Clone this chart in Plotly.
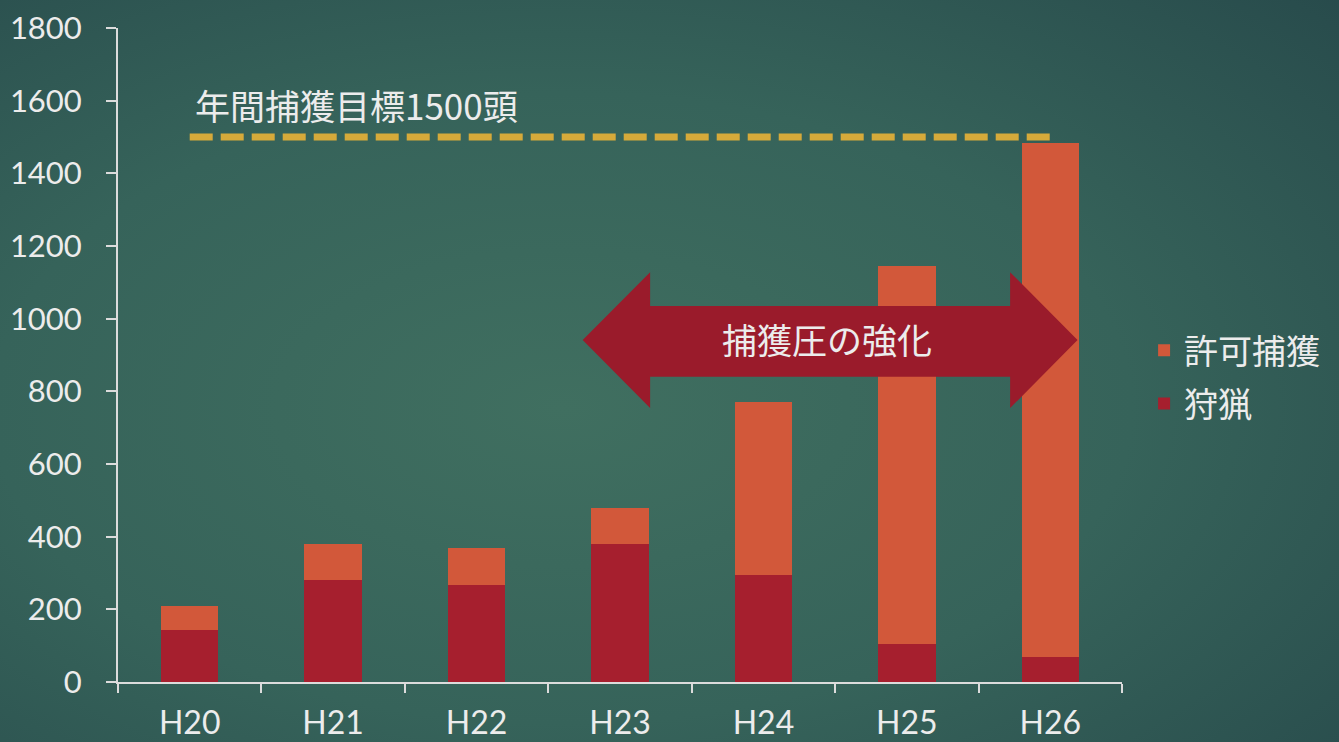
import base64
import plotly.graph_objects as go

# ---- data ----
years = ["H20", "H21", "H22", "H23", "H24", "H25", "H26"]
hunting = [143, 281, 267, 380, 295, 105, 69]          # 狩猟
permit_total = [209, 380, 369, 479, 771, 1145, 1484]  # total height
permit = [t - h for t, h in zip(permit_total, hunting)]  # 許可捕獲
target = 1500
target_label = "年間捕獲目標1500頭"
arrow_label = "捕獲圧の強化"
y_ticks = list(range(0, 1801, 200))

ORANGE = "#d2583a"
RED = "#a61f2e"
ARROW = "#9a1b2b"
GOLD = "#d6aa3a"
TXT = "#ececec"
JP = "Noto Sans CJK JP"
LAT = "Lato, Noto Sans, sans-serif"

W, H = 1339, 742
ml, mr, mt, mb = 118, 217, 28, 60
pw, ph = W - ml - mr, H - mt - mb

fig = go.Figure()
fig.add_trace(go.Bar(x=years, y=hunting, name="狩猟", marker=dict(color=RED, line=dict(width=0)),
                     legendgroup="g2", legendrank=2))
fig.add_trace(go.Bar(x=years, y=permit, name="許可捕獲", marker=dict(color=ORANGE, line=dict(width=0)),
                     legendgroup="g1", legendrank=1))
fig.add_trace(go.Scatter(x=[years[0], years[-1]], y=[target, target], mode="lines",
                         line=dict(color=GOLD, width=7, dash="23px,8px"), showlegend=False,
                         hoverinfo="skip"))

# double-headed arrow (category index coordinates, H23..H26)
ym, yht, yhb, yst, ysb = 941, 1128, 754, 1035, 840
xl, xlb, xrb, xr = 2.74, 3.21, 5.72, 6.19
path = (f"M {xl},{ym} L {xlb},{yht} L {xlb},{yst} L {xrb},{yst} L {xrb},{yht} L {xr},{ym} "
        f"L {xrb},{yhb} L {xrb},{ysb} L {xlb},{ysb} L {xlb},{yhb} Z")
fig.add_shape(type="path", path=path, xref="x", yref="y", fillcolor=ARROW, line=dict(width=0),
              layer="above")
fig.add_annotation(x=(xl + xr) / 2 - 0.02, y=ym + 5, xref="x", yref="y", text=arrow_label,
                   showarrow=False, font=dict(family=JP, size=35, color=TXT))
fig.add_annotation(x=0.02, y=1590, xref="x", yref="y", text=target_label, xanchor="left",
                   showarrow=False, font=dict(family=JP, size=35, color=TXT))

# background gradient
svg = f'''<svg xmlns="http://www.w3.org/2000/svg" width="{W}" height="{H}">
<defs><radialGradient id="g" cx="0.42" cy="0.55" r="0.85" fx="0.42" fy="0.55">
<stop offset="0" stop-color="#406f60"/><stop offset="0.5" stop-color="#36635a"/>
<stop offset="1" stop-color="#26484a"/></radialGradient></defs>
<rect width="{W}" height="{H}" fill="url(#g)"/></svg>'''
uri = "data:image/svg+xml;base64," + base64.b64encode(svg.encode()).decode()
fig.add_layout_image(source=uri, xref="paper", yref="paper", x=-ml / pw, y=1 + mt / ph,
                     sizex=W / pw, sizey=H / ph, xanchor="left", yanchor="top",
                     sizing="stretch", layer="below")

fig.update_layout(
    width=W, height=H,
    margin=dict(l=ml, r=mr, t=mt, b=mb, autoexpand=False),
    paper_bgcolor="#2a4f4c", plot_bgcolor="rgba(0,0,0,0)",
    barmode="stack", bargap=0.6,
    showlegend=True,
    legend=dict(x=1.022, y=0.551, xanchor="left", yanchor="top", traceorder="grouped",
                tracegroupgap=6, bgcolor="rgba(0,0,0,0)",
                font=dict(family=JP, size=34, color=TXT)),
    xaxis=dict(type="category", showline=True, linecolor="#dcdcdc", linewidth=2,
               ticks="outside", tickson="boundaries", ticklen=9, tickcolor="#dcdcdc", tickwidth=2,
               ticklabelstandoff=12, automargin=False,
               tickfont=dict(family=LAT, size=32, color=TXT), showgrid=False, zeroline=False),
    yaxis=dict(range=[0, 1800], tickvals=y_ticks, showline=True, linecolor="#dcdcdc", linewidth=2,
               ticks="outside", ticklen=10, tickcolor="#dcdcdc", tickwidth=2,
               ticklabelstandoff=18, automargin=False,
               tickfont=dict(family=LAT, size=31, color=TXT), showgrid=False, zeroline=False),
)

fig.write_html("out.html")
